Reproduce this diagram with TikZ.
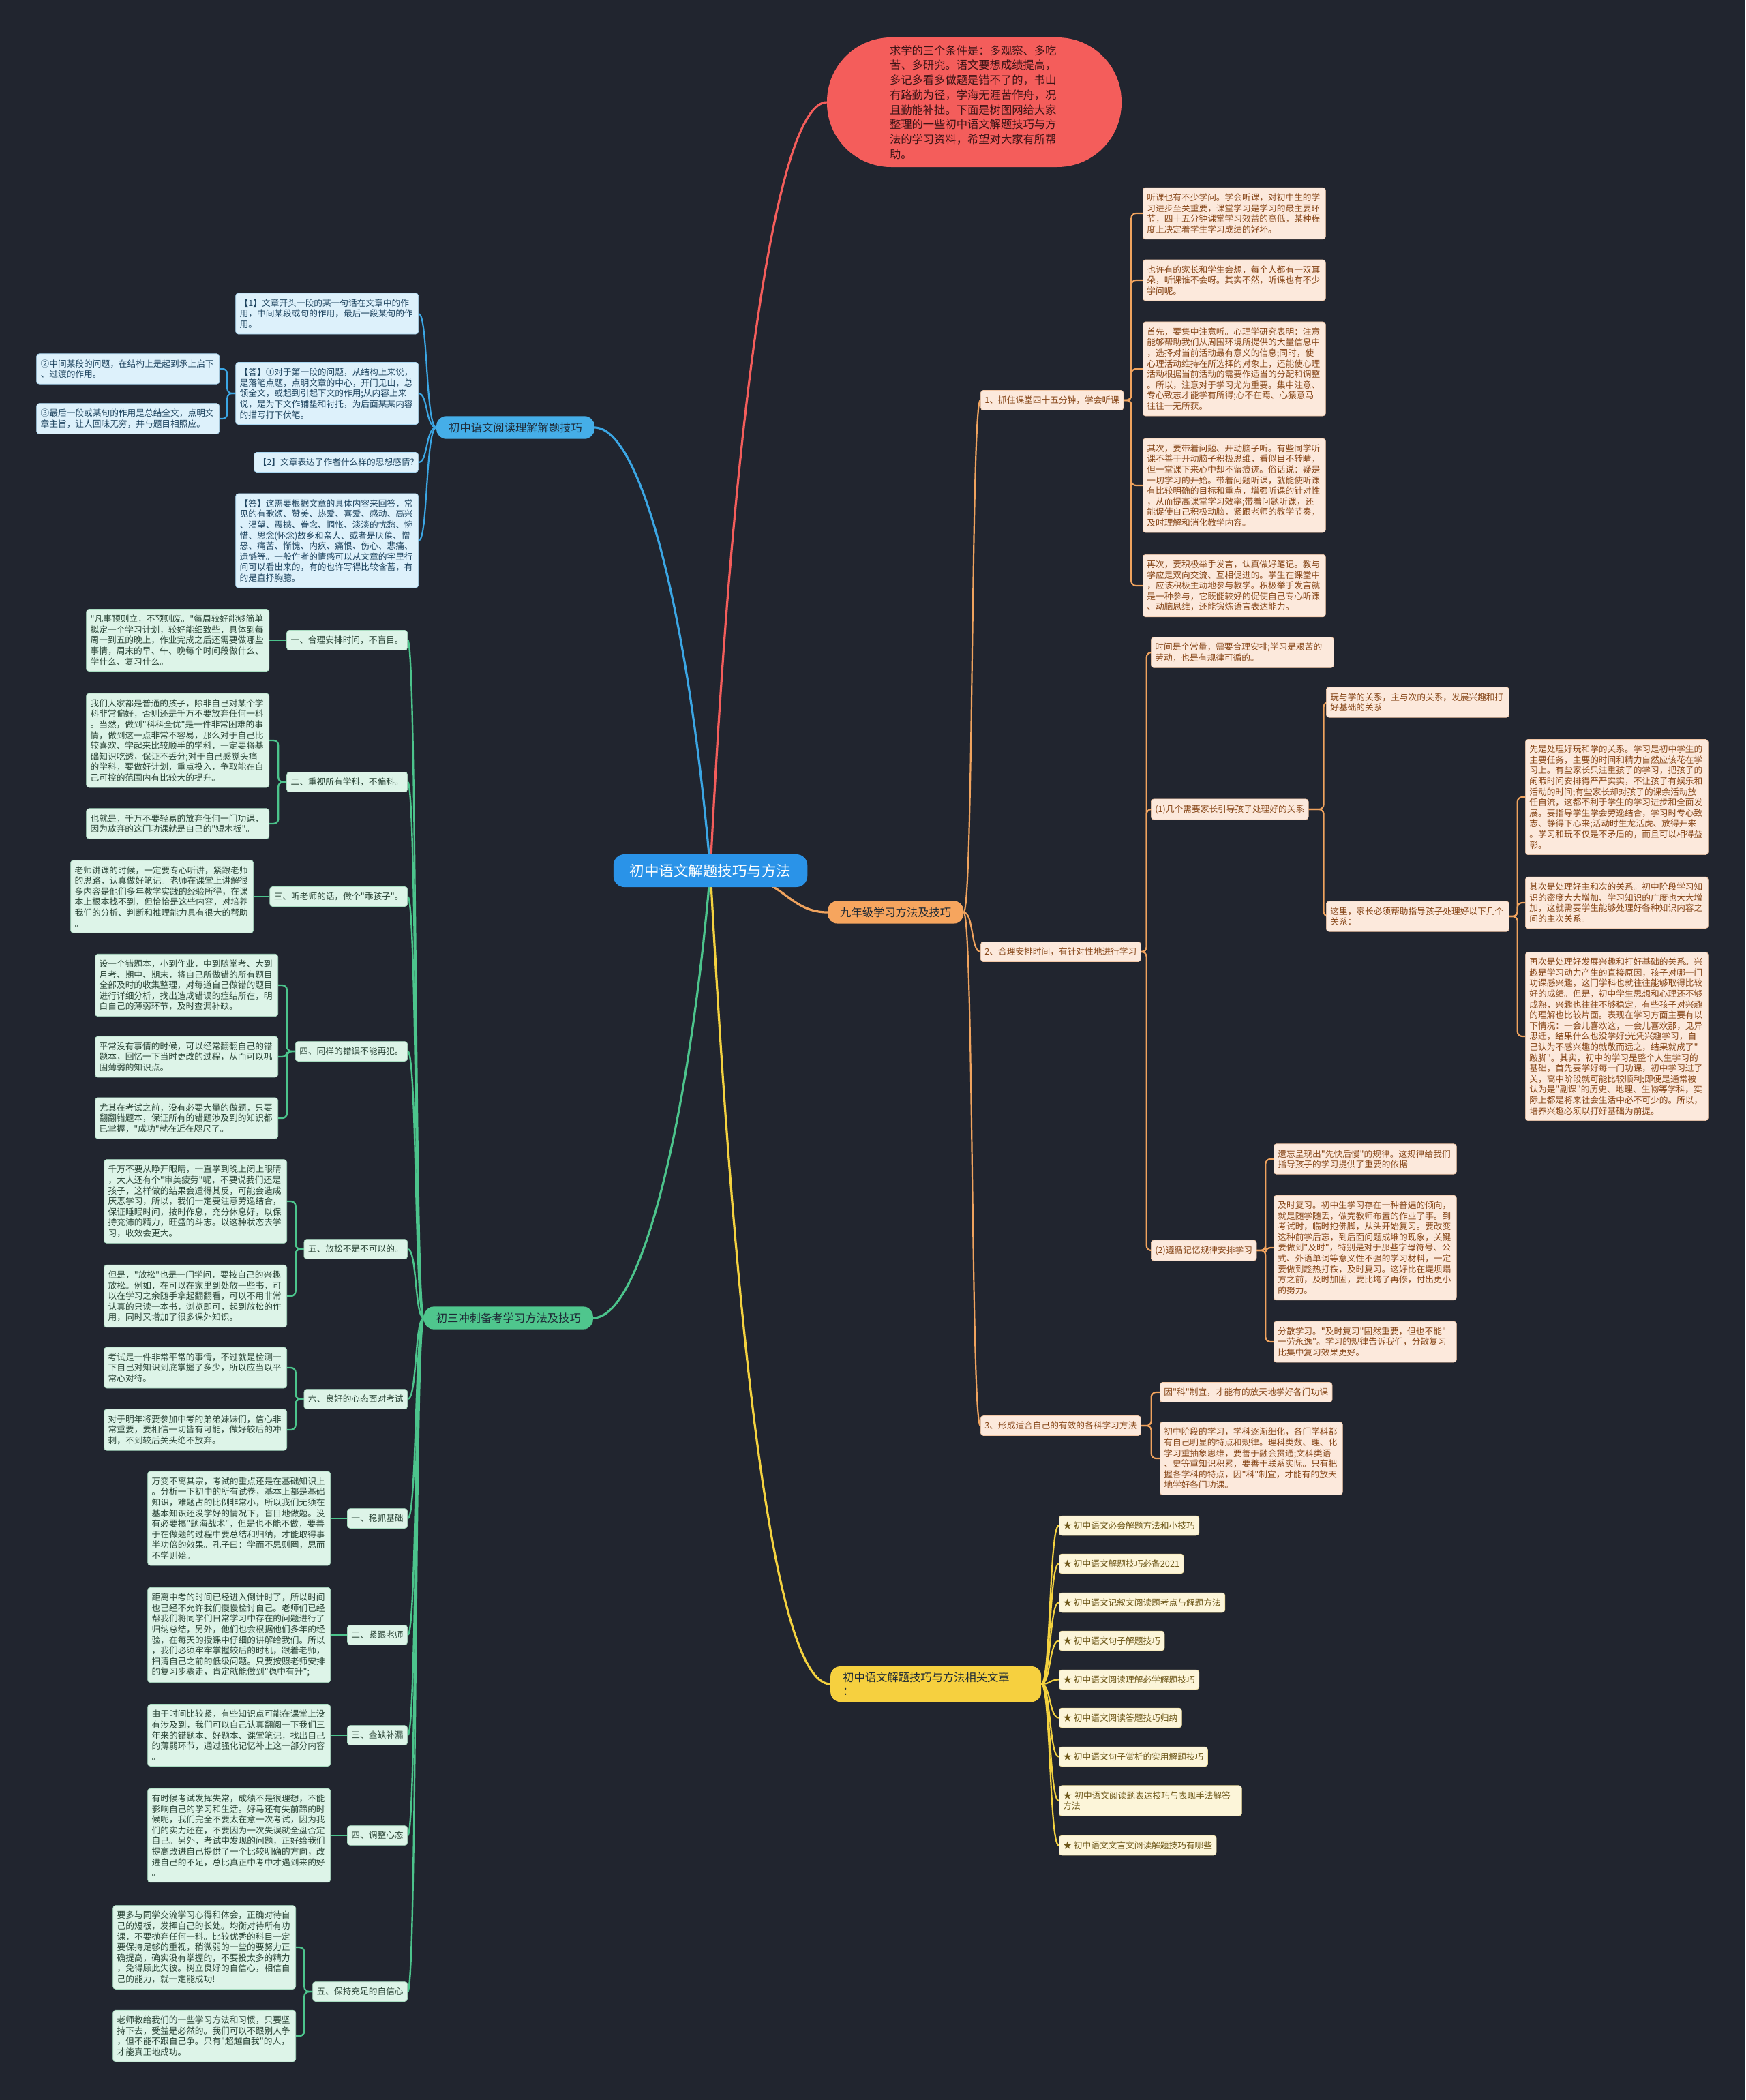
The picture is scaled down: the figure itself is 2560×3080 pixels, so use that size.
\documentclass[tikz,border=0pt]{standalone}
\usepackage{fontspec}
\newfontfamily\zhfont{Noto Sans CJK SC}

\definecolor{bgcol}{HTML}{21252F}
\definecolor{rootbl}{HTML}{2A93E8}
\definecolor{redfill}{HTML}{F45D5B}
\definecolor{redtxt}{HTML}{3D1416}
\definecolor{orln}{HTML}{F0A35E}
\definecolor{ortop}{HTML}{F6A55E}
\definecolor{orfill}{HTML}{FCE9DC}
\definecolor{orbd}{HTML}{F2C7A6}
\definecolor{ortxt}{HTML}{874719}
\definecolor{yeln}{HTML}{F4D23F}
\definecolor{yetop}{HTML}{F6D03F}
\definecolor{yefill}{HTML}{FCF5D9}
\definecolor{yebd}{HTML}{EEDC9A}
\definecolor{yetxt}{HTML}{6C5617}
\definecolor{blln}{HTML}{3BA6E4}
\definecolor{bltop}{HTML}{45AEE8}
\definecolor{blfill}{HTML}{DDF1FB}
\definecolor{blbd}{HTML}{A9D6F0}
\definecolor{bltxt}{HTML}{1F4560}
\definecolor{grln}{HTML}{4CC48C}
\definecolor{grtop}{HTML}{4FC68D}
\definecolor{grfill}{HTML}{DDF4E8}
\definecolor{grbd}{HTML}{A8DCC0}
\definecolor{grtxt}{HTML}{2C4638}
\definecolor{toptxt}{HTML}{1E2A36}

\pgfdeclarelayer{backdrop}
\pgfdeclarelayer{links}
\pgfsetlayers{backdrop,links,main}

\tikzset{
  box/.style={rounded corners=4pt, align=left, inner xsep=6pt, inner ysep=8.5pt, line width=0.7pt, font=\zhfont\fontsize{12.7}{15.6}\selectfont},
  para/.style={text width=256pt},
  orbox/.style={box, fill=orfill, draw=orbd, text=ortxt},
  blbox/.style={box, fill=blfill, draw=blbd, text=bltxt},
  grbox/.style={box, fill=grfill, draw=grbd, text=grtxt},
  yebox/.style={box, fill=yefill, draw=yebd, text=yetxt},
  topic/.style={rounded corners=14pt, align=left, inner xsep=18pt, inner ysep=9pt, text=toptxt, font=\zhfont\fontsize{16.3}{20}\selectfont},
  rootbox/.style={rounded corners=16pt, fill=rootbl, text=white, inner xsep=24pt, inner ysep=14pt, font=\zhfont\fontsize{21.5}{26}\selectfont},
  bubble/.style={rounded corners=94pt, fill=redfill, text=redtxt, align=left, text width=248pt, inner xsep=92pt, minimum height=190pt, font=\zhfont\fontsize{16.3}{21.7}\selectfont},
  mainlink/.style={line width=3.2pt},
  redlink/.style={draw=redfill, mainlink},
  orlink/.style={draw=orln, line width=2.2pt, rounded corners=7pt},
  yelink/.style={draw=yeln, line width=2.2pt, rounded corners=7pt},
  bllink/.style={draw=blln, line width=2.2pt, rounded corners=7pt},
  grlink/.style={draw=grln, line width=2.4pt, rounded corners=7pt}
}

\begin{document}
\begin{tikzpicture}[x=1pt,y=-1pt]
\begin{pgfonlayer}{backdrop}
\fill[bgcol] (0,0) rectangle (2560,3080);
\end{pgfonlayer}
\useasboundingbox (0,0) rectangle (2560,3080);

% centre and main topics
\node[rootbox] (root) at (1042,1277) {初中语文解题技巧与方法};
\node[bubble] (intro) at (1429,150) {求学的三个条件是：多观察、多吃\\苦、多研究。语文要想成绩提高，\\多记多看多做题是错不了的，书山\\有路勤为径，学海无涯苦作舟，况\\且勤能补拙。下面是树图网给大家\\整理的一些初中语文解题技巧与方\\法的学习资料，希望对大家有所帮\\助。};
\node[topic, fill=ortop, anchor=west] (nine) at (1214,1338) {九年级学习方法及技巧};
\node[topic, fill=yetop, anchor=west, text width=273pt] (rel) at (1218,2470) {初中语文解题技巧与方法相关文章\\：};
\node[topic, fill=bltop, anchor=east] (read) at (872,627) {初中语文阅读理解解题技巧};
\node[topic, fill=grtop, anchor=east] (sprint) at (870,1933) {初三冲刺备考学习方法及技巧};

% orange branch
\node[orbox, anchor=west] (o1) at (1438,587) {1、抓住课堂四十五分钟，学会听课};
\node[orbox, anchor=west] (o2) at (1438,1396) {2、合理安排时间，有针对性地进行学习};
\node[orbox, anchor=west] (o3) at (1438,2091) {3、形成适合自己的有效的各科学习方法};

\node[orbox, para, anchor=west] (lis1) at (1676,313) {听课也有不少学问。学会听课，对初中生的学\\习进步至关重要，课堂学习是学习的最主要环\\节，四十五分钟课堂学习效益的高低，某种程\\度上决定着学生学习成绩的好坏。};
\node[orbox, para, anchor=west] (lis2) at (1676,411) {也许有的家长和学生会想，每个人都有一双耳\\朵，听课谁不会呀。其实不然，听课也有不少\\学问呢。};
\node[orbox, para, anchor=west] (lis3) at (1676,541) {首先，要集中注意听。心理学研究表明：注意\\能够帮助我们从周围环境所提供的大量信息中\\，选择对当前活动最有意义的信息;同时，使\\心理活动维持在所选择的对象上，还能使心理\\活动根据当前活动的需要作适当的分配和调整\\。所以，注意对于学习尤为重要。集中注意、\\专心致志才能学有所得;心不在焉、心猿意马\\往往一无所获。};
\node[orbox, para, anchor=west] (lis4) at (1676,712) {其次，要带着问题、开动脑子听。有些同学听\\课不善于开动脑子积极思维，看似目不转睛，\\但一堂课下来心中却不留痕迹。俗话说：疑是\\一切学习的开始。带着问题听课，就能使听课\\有比较明确的目标和重点，增强听课的针对性\\，从而提高课堂学习效率;带着问题听课，还\\能促使自己积极动脑，紧跟老师的教学节奏，\\及时理解和消化教学内容。};
\node[orbox, para, anchor=west] (lis5) at (1676,859) {再次，要积极举手发言，认真做好笔记。教与\\学应是双向交流、互相促进的。学生在课堂中\\，应该积极主动地参与教学。积极举手发言就\\是一种参与，它既能较好的促使自己专心听课\\、动脑思维，还能锻炼语言表达能力。};

\node[orbox, para, anchor=west] (time) at (1688,957) {时间是个常量，需要合理安排;学习是艰苦的\\劳动，也是有规律可循的。};
\node[orbox, anchor=west] (rela) at (1688,1187) {(1)几个需要家长引导孩子处理好的关系};
\node[orbox, anchor=west] (memo) at (1688,1834) {(2)遵循记忆规律安排学习};

\node[orbox, para, anchor=west] (play) at (1945,1030) {玩与学的关系，主与次的关系，发展兴趣和打\\好基础的关系};
\node[orbox, para, anchor=west] (here) at (1945,1344) {这里，家长必须帮助指导孩子处理好以下几个\\关系：};

\node[orbox, para, anchor=west] (rel1) at (2237,1169) {先是处理好玩和学的关系。学习是初中学生的\\主要任务，主要的时间和精力自然应该花在学\\习上。有些家长只注重孩子的学习，把孩子的\\闲暇时间安排得严严实实，不让孩子有娱乐和\\活动的时间;有些家长却对孩子的课余活动放\\任自流，这都不利于学生的学习进步和全面发\\展。要指导学生学会劳逸结合，学习时专心致\\志、静得下心来;活动时生龙活虎、放得开来\\。学习和玩不仅是不矛盾的，而且可以相得益\\彰。};
\node[orbox, para, anchor=west] (rel2) at (2237,1324) {其次是处理好主和次的关系。初中阶段学习知\\识的密度大大增加、学习知识的广度也大大增\\加，这就需要学生能够处理好各种知识内容之\\间的主次关系。};
\node[orbox, para, anchor=west] (rel3) at (2237,1520) {再次是处理好发展兴趣和打好基础的关系。兴\\趣是学习动力产生的直接原因，孩子对哪一门\\功课感兴趣，这门学科也就往往能够取得比较\\好的成绩。但是，初中学生思想和心理还不够\\成熟，兴趣也往往不够稳定，有些孩子对兴趣\\的理解也比较片面。表现在学习方面主要有以\\下情况：一会儿喜欢这，一会儿喜欢那，见异\\思迁，结果什么也没学好;光凭兴趣学习，自\\己认为不感兴趣的就敬而远之，结果就成了"\\跛脚"。其实，初中的学习是整个人生学习的\\基础，首先要学好每一门功课，初中学习过了\\关，高中阶段就可能比较顺利;即便是通常被\\认为是"副课"的历史、地理、生物等学科，实\\际上都是将来社会生活中必不可少的。所以，\\培养兴趣必须以打好基础为前提。};

\node[orbox, para, anchor=west] (mem1) at (1868,1700) {遗忘呈现出"先快后慢"的规律。这规律给我们\\指导孩子的学习提供了重要的依据};
\node[orbox, para, anchor=west] (mem2) at (1868,1830) {及时复习。初中生学习存在一种普遍的倾向，\\就是随学随丢，做完教师布置的作业了事。到\\考试时，临时抱佛脚，从头开始复习。要改变\\这种前学后忘，到后面问题成堆的现象，关键\\要做到"及时"，特别是对于那些字母符号、公\\式、外语单词等意义性不强的学习材料，一定\\要做到趁热打铁，及时复习。这好比在堤坝塌\\方之前，及时加固，要比垮了再修，付出更小\\的努力。};
\node[orbox, para, anchor=west] (mem3) at (1868,1968) {分散学习。"及时复习"固然重要，但也不能"\\一劳永逸"。学习的规律告诉我们，分散复习\\比集中复习效果更好。};

\node[orbox, anchor=west] (subj1) at (1701,2042) {因"科"制宜，才能有的放天地学好各门功课};
\node[orbox, para, anchor=west] (subj2) at (1701,2139) {初中阶段的学习，学科逐渐细化，各门学科都\\有自己明显的特点和规律。理科类数、理、化\\学习重抽象思维，要善于融会贯通;文科类语\\、史等重知识积累，要善于联系实际。只有把\\握各学科的特点，因"科"制宜，才能有的放天\\地学好各门功课。};

% yellow branch
\node[yebox, anchor=west] (art1) at (1553,2237.5) {★ 初中语文必会解题方法和小技巧};
\node[yebox, anchor=west] (art2) at (1553,2293.5) {★ 初中语文解题技巧必备2021};
\node[yebox, anchor=west] (art3) at (1553,2350.5) {★ 初中语文记叙文阅读题考点与解题方法};
\node[yebox, anchor=west] (art4) at (1553,2406.5) {★ 初中语文句子解题技巧};
\node[yebox, anchor=west] (art5) at (1553,2463.5) {★ 初中语文阅读理解必学解题技巧};
\node[yebox, anchor=west] (art6) at (1553,2519.5) {★ 初中语文阅读答题技巧归纳};
\node[yebox, anchor=west] (art7) at (1553,2576.5) {★ 初中语文句子赏析的实用解题技巧};
\node[yebox, para, anchor=west] (art8) at (1553,2641) {★ 初中语文阅读题表达技巧与表现手法解答\\方法};
\node[yebox, anchor=west] (art9) at (1553,2706.5) {★ 初中语文文言文阅读解题技巧有哪些};

% blue branch
\node[blbox, para, anchor=east] (q1) at (614,460) {【1】文章开头一段的某一句话在文章中的作\\用，中间某段或句的作用，最后一段某句的作\\用。};
\node[blbox, para, anchor=east] (a1) at (614,577) {【答】①对于第一段的问题，从结构上来说，\\是落笔点题，点明文章的中心，开门见山，总\\领全文，或起到引起下文的作用;从内容上来\\说，是为下文作铺垫和衬托，为后面某某内容\\的描写打下伏笔。};
\node[blbox, anchor=east] (q2) at (614,678) {【2】文章表达了作者什么样的思想感情?};
\node[blbox, para, anchor=east] (a2) at (614,793) {【答】这需要根据文章的具体内容来回答，常\\见的有歌颂、赞美、热爱、喜爱、感动、高兴\\、渴望、震撼、眷念、惆怅、淡淡的忧愁、惋\\惜、思念(怀念)故乡和亲人、或者是厌倦、憎\\恶、痛苦、惭愧、内疚、痛恨、伤心、悲痛、\\遗憾等。一般作者的情感可以从文章的字里行\\间可以看出来的，有的也许写得比较含蓄，有\\的是直抒胸臆。};
\node[blbox, para, anchor=east] (a1b) at (322,541) {②中间某段的问题，在结构上是起到承上启下\\、过渡的作用。};
\node[blbox, para, anchor=east] (a1c) at (322,614) {③最后一段或某句的作用是总结全文，点明文\\章主旨，让人回味无穷，并与题目相照应。};

% green branch
\node[grbox, anchor=east] (g1) at (598,939) {一、合理安排时间，不盲目。};
\node[grbox, anchor=east] (g2) at (598,1147) {二、重视所有学科，不偏科。};
\node[grbox, anchor=east] (g3) at (598,1315) {三、听老师的话，做个"乖孩子"。};
\node[grbox, anchor=east] (g4) at (598,1542) {四、同样的错误不能再犯。};
\node[grbox, anchor=east] (g5) at (598,1832) {五、放松不是不可以的。};
\node[grbox, anchor=east] (g6) at (598,2052) {六、良好的心态面对考试};
\node[grbox, anchor=east] (g7) at (598,2227) {一、稳抓基础};
\node[grbox, anchor=east] (g8) at (598,2398) {二、紧跟老师};
\node[grbox, anchor=east] (g9) at (598,2545) {三、查缺补漏};
\node[grbox, anchor=east] (g10) at (598,2692) {四、调整心态};
\node[grbox, anchor=east] (g11) at (598,2921) {五、保持充足的自信心};

\node[grbox, para, anchor=east] (g1a) at (395,939) {"凡事预则立，不预则废。"每周较好能够简单\\拟定一个学习计划，较好能细致些，具体到每\\周一到五的晚上，作业完成之后还需要做哪些\\事情，周末的早、午、晚每个时间段做什么、\\学什么、复习什么。};
\node[grbox, para, anchor=east] (g2a) at (395,1086) {我们大家都是普通的孩子，除非自己对某个学\\科非常偏好，否则还是千万不要放弃任何一科\\。当然，做到"科科全优"是一件非常困难的事\\情，做到这一点非常不容易，那么对于自己比\\较喜欢、学起来比较顺手的学科，一定要将基\\础知识吃透，保证不丢分;对于自己感觉头痛\\的学科，要做好计划，重点投入，争取能在自\\己可控的范围内有比较大的提升。};
\node[grbox, para, anchor=east] (g2b) at (395,1208) {也就是，千万不要轻易的放弃任何一门功课，\\因为放弃的这门功课就是自己的"短木板"。};
\node[grbox, para, anchor=east] (g3a) at (372,1315) {老师讲课的时候，一定要专心听讲，紧跟老师\\的思路，认真做好笔记。老师在课堂上讲解很\\多内容是他们多年教学实践的经验所得，在课\\本上根本找不到，但恰恰是这些内容，对培养\\我们的分析、判断和推理能力具有很大的帮助\\。};
\node[grbox, para, anchor=east] (g4a) at (408,1445) {设一个错题本，小到作业，中到随堂考、大到\\月考、期中、期末，将自己所做错的所有题目\\全部及时的收集整理，对每道自己做错的题目\\进行详细分析，找出造成错误的症结所在，明\\白自己的薄弱环节，及时查漏补缺。};
\node[grbox, para, anchor=east] (g4b) at (408,1550) {平常没有事情的时候，可以经常翻翻自己的错\\题本，回忆一下当时更改的过程，从而可以巩\\固薄弱的知识点。};
\node[grbox, para, anchor=east] (g4c) at (408,1640) {尤其在考试之前，没有必要大量的做题，只要\\翻翻错题本，保证所有的错题涉及到的知识都\\已掌握，"成功"就在近在咫尺了。};
\node[grbox, para, anchor=east] (g5a) at (421,1762) {千万不要从睁开眼睛，一直学到晚上闭上眼睛\\，大人还有个"审美疲劳"呢，不要说我们还是\\孩子，这样做的结果会适得其反，可能会造成\\厌恶学习，所以，我们一定要注意劳逸结合，\\保证睡眠时间，按时作息，充分休息好，以保\\持充沛的精力，旺盛的斗志。以这种状态去学\\习，收效会更大。};
\node[grbox, para, anchor=east] (g5b) at (421,1901) {但是，"放松"也是一门学问，要按自己的兴趣\\放松。例如，在可以在家里到处放一些书，可\\以在学习之余随手拿起翻翻看，可以不用非常\\认真的只读一本书，浏览即可，起到放松的作\\用，同时又增加了很多课外知识。};
\node[grbox, para, anchor=east] (g6a) at (421,2006) {考试是一件非常平常的事情，不过就是检测一\\下自己对知识到底掌握了多少，所以应当以平\\常心对待。};
\node[grbox, para, anchor=east] (g6b) at (421,2097) {对于明年将要参加中考的弟弟妹妹们，信心非\\常重要，要相信一切皆有可能，做好较后的冲\\刺，不到较后关头绝不放弃。};
\node[grbox, para, anchor=east] (g7a) at (485,2227) {万变不离其宗，考试的重点还是在基础知识上\\。分析一下初中的所有试卷，基本上都是基础\\知识，难题占的比例非常小，所以我们无须在\\基本知识还没学好的情况下，盲目地做题。没\\有必要搞"题海战术"，但是也不能不做，要善\\于在做题的过程中要总结和归纳，才能取得事\\半功倍的效果。孔子曰：学而不思则罔，思而\\不学则殆。};
\node[grbox, para, anchor=east] (g8a) at (485,2398) {距离中考的时间已经进入倒计时了，所以时间\\也已经不允许我们慢慢检讨自己。老师们已经\\帮我们将同学们日常学习中存在的问题进行了\\归纳总结，另外，他们也会根据他们多年的经\\验，在每天的授课中仔细的讲解给我们。所以\\，我们必须牢牢掌握较后的时机，跟着老师，\\扫清自己之前的低级问题。只要按照老师安排\\的复习步骤走，肯定就能做到"稳中有升";};
\node[grbox, para, anchor=east] (g9a) at (485,2545) {由于时间比较紧，有些知识点可能在课堂上没\\有涉及到，我们可以自己认真翻阅一下我们三\\年来的错题本、好题本、课堂笔记，找出自己\\的薄弱环节，通过强化记忆补上这一部分内容\\。};
\node[grbox, para, anchor=east] (g10a) at (485,2692) {有时候考试发挥失常，成绩不是很理想，不能\\影响自己的学习和生活。好马还有失前蹄的时\\候呢，我们完全不要太在意一次考试，因为我\\们的实力还在，不要因为一次失误就全盘否定\\自己。另外，考试中发现的问题，正好给我们\\提高改进自己提供了一个比较明确的方向，改\\进自己的不足，总比真正中考中才遇到来的好\\。};
\node[grbox, para, anchor=east] (g11a) at (434,2856) {要多与同学交流学习心得和体会，正确对待自\\己的短板，发挥自己的长处。均衡对待所有功\\课，不要抛弃任何一科。比较优秀的科目一定\\要保持足够的重视，稍微弱的一些的要努力正\\确提高，确实没有掌握的，不要投太多的精力\\，免得顾此失彼。树立良好的自信心，相信自\\己的能力，就一定能成功!};
\node[grbox, para, anchor=east] (g11b) at (434,2986) {老师教给我们的一些学习方法和习惯，只要坚\\持下去，受益是必然的。我们可以不跟别人争\\，但不能不跟自己争。只有"超越自我"的人，\\才能真正地成功。};

\begin{pgfonlayer}{links}
% from the centre
\draw[redlink] (root.center) .. controls (1075,600) and (1140,150) .. (intro.west);
\draw[orln, mainlink] (root.center) .. controls (1150,1277) and (1150,1338) .. (nine.west);
\draw[yeln, mainlink] (root.center) .. controls (1075,1900) and (1130,2470) .. (rel.west);
\draw[blln, mainlink] (root.center) .. controls (1010,900) and (940,627) .. (read.east);
\draw[grln, mainlink] (root.center) .. controls (1010,1650) and (940,1933) .. (sprint.east);

% orange
\draw[orlink] (nine.east) .. controls (1428,1338) and (1424,587) .. (o1.west);
\draw[orlink] (nine.east) .. controls (1428,1338) and (1424,1396) .. (o2.west);
\draw[orlink] (nine.east) .. controls (1428,1338) and (1424,2091) .. (o3.west);
\draw[orlink] (o1.east) -- ++(11,0) |- (lis1.west);
\draw[orlink] (o1.east) -- ++(11,0) |- (lis2.west);
\draw[orlink] (o1.east) -- ++(11,0) |- (lis3.west);
\draw[orlink] (o1.east) -- ++(11,0) |- (lis4.west);
\draw[orlink] (o1.east) -- ++(11,0) |- (lis5.west);
\draw[orlink] (o2.east) -- ++(8,0) |- (time.west);
\draw[orlink] (o2.east) -- ++(8,0) |- (rela.west);
\draw[orlink] (o2.east) -- ++(8,0) |- (memo.west);
\draw[orlink] (rela.east) -- ++(22,0) |- (play.west);
\draw[orlink] (rela.east) -- ++(22,0) |- (here.west);
\draw[orlink] (here.east) -- ++(12,0) |- (rel1.west);
\draw[orlink] (here.east) -- ++(12,0) |- (rel2.west);
\draw[orlink] (here.east) -- ++(12,0) |- (rel3.west);
\draw[orlink] (memo.east) -- ++(13,0) |- (mem1.west);
\draw[orlink] (memo.east) -- ++(13,0) |- (mem2.west);
\draw[orlink] (memo.east) -- ++(13,0) |- (mem3.west);
\draw[orlink] (o3.east) -- ++(15,0) |- (subj1.west);
\draw[orlink] (o3.east) -- ++(15,0) |- (subj2.west);

% yellow
\draw[yelink] (rel.east) .. controls (1541,2470) and (1539,2237.5) .. (art1.west);
\draw[yelink] (rel.east) .. controls (1541,2470) and (1539,2293.5) .. (art2.west);
\draw[yelink] (rel.east) .. controls (1541,2470) and (1539,2350.5) .. (art3.west);
\draw[yelink] (rel.east) .. controls (1541,2470) and (1539,2406.5) .. (art4.west);
\draw[yelink] (rel.east) .. controls (1541,2470) and (1539,2463.5) .. (art5.west);
\draw[yelink] (rel.east) .. controls (1541,2470) and (1539,2519.5) .. (art6.west);
\draw[yelink] (rel.east) .. controls (1541,2470) and (1539,2576.5) .. (art7.west);
\draw[yelink] (rel.east) .. controls (1541,2470) and (1539,2641) .. (art8.west);
\draw[yelink] (rel.east) .. controls (1541,2470) and (1539,2706.5) .. (art9.west);

% blue
\draw[bllink] (read.west) .. controls (624,627) and (628,460) .. (q1.east);
\draw[bllink] (read.west) .. controls (624,627) and (628,577) .. (a1.east);
\draw[bllink] (read.west) .. controls (624,627) and (628,678) .. (q2.east);
\draw[bllink] (read.west) .. controls (624,627) and (628,793) .. (a2.east);
\draw[bllink] (a1.west) -- ++(-12,0) |- (a1b.east);
\draw[bllink] (a1.west) -- ++(-12,0) |- (a1c.east);

% green
\draw[grlink] (sprint.west) .. controls (608,1933) and (612,939) .. (g1.east);
\draw[grlink] (sprint.west) .. controls (608,1933) and (612,1147) .. (g2.east);
\draw[grlink] (sprint.west) .. controls (608,1933) and (612,1315) .. (g3.east);
\draw[grlink] (sprint.west) .. controls (608,1933) and (612,1542) .. (g4.east);
\draw[grlink] (sprint.west) .. controls (608,1933) and (612,1832) .. (g5.east);
\draw[grlink] (sprint.west) .. controls (608,1933) and (612,2052) .. (g6.east);
\draw[grlink] (sprint.west) .. controls (608,1933) and (612,2227) .. (g7.east);
\draw[grlink] (sprint.west) .. controls (608,1933) and (612,2398) .. (g8.east);
\draw[grlink] (sprint.west) .. controls (608,1933) and (612,2545) .. (g9.east);
\draw[grlink] (sprint.west) .. controls (608,1933) and (612,2692) .. (g10.east);
\draw[grlink] (sprint.west) .. controls (608,1933) and (612,2921) .. (g11.east);
\draw[grlink] (g1.west) -- (g1a.east);
\draw[grlink] (g2.west) -- ++(-12,0) |- (g2a.east);
\draw[grlink] (g2.west) -- ++(-12,0) |- (g2b.east);
\draw[grlink] (g3.west) -- (g3a.east);
\draw[grlink] (g4.west) -- ++(-12,0) |- (g4a.east);
\draw[grlink] (g4.west) -- ++(-12,0) |- (g4b.east);
\draw[grlink] (g4.west) -- ++(-12,0) |- (g4c.east);
\draw[grlink] (g5.west) -- ++(-12,0) |- (g5a.east);
\draw[grlink] (g5.west) -- ++(-12,0) |- (g5b.east);
\draw[grlink] (g6.west) -- ++(-12,0) |- (g6a.east);
\draw[grlink] (g6.west) -- ++(-12,0) |- (g6b.east);
\draw[grlink] (g7.west) -- (g7a.east);
\draw[grlink] (g8.west) -- (g8a.east);
\draw[grlink] (g9.west) -- (g9a.east);
\draw[grlink] (g10.west) -- (g10a.east);
\draw[grlink] (g11.west) -- ++(-12,0) |- (g11a.east);
\draw[grlink] (g11.west) -- ++(-12,0) |- (g11b.east);
\end{pgfonlayer}
\end{tikzpicture}
\end{document}
